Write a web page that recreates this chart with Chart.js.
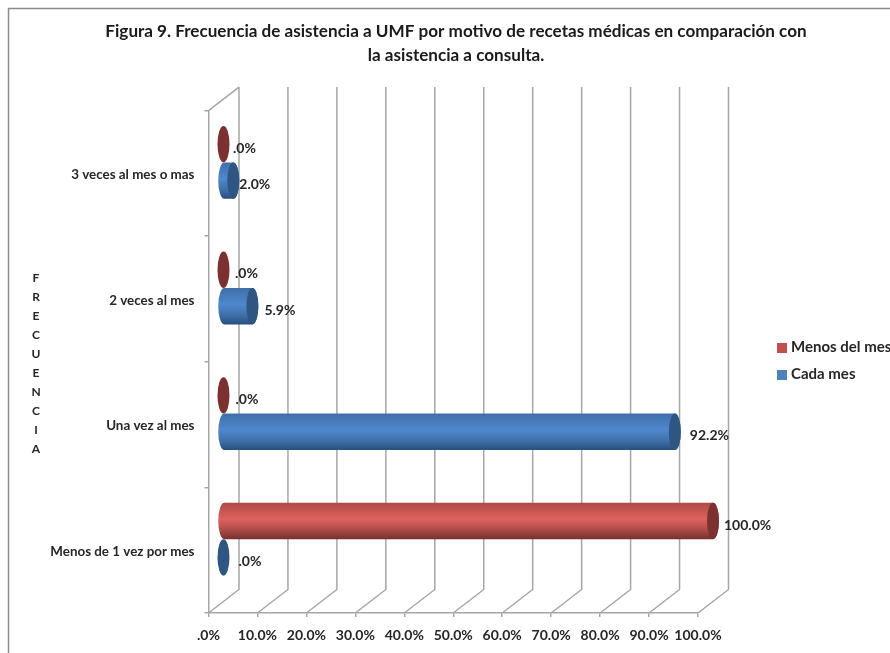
<!DOCTYPE html>
<html>
<head>
<meta charset="utf-8">
<style>
html,body{margin:0;padding:0;background:#fff;overflow:hidden}
#wrap{position:relative;width:890px;height:653px}
</style>
<script src="https://cdn.jsdelivr.net/npm/chart.js@4/dist/chart.umd.js"></script>
</head>
<body>
<div id="wrap"><canvas id="c" width="890" height="653"></canvas></div>
<script>
const categories = ["3 veces al mes o mas", "2 veces al mes", "Una vez al mes", "Menos de 1 vez por mes"];
const menosDelMes = [0, 0, 0, 100];
const cadaMes = [2, 5.9, 92.2, 0];
const seriesNames = ["Menos del mes", "Cada mes"];
const xTicks = [0, 10, 20, 30, 40, 50, 60, 70, 80, 90, 100];
const titleLines = ["Figura 9. Frecuencia de asistencia a UMF por motivo de recetas médicas en comparación con", "la asistencia a consulta."];
const axisLetters = ["F", "R", "E", "C", "U", "E", "N", "C", "I", "A"];

const FONT = "Lato, 'Open Sans', sans-serif";
const TXT = "#262626";
const GRID = "#a6a6a6";
const PAL = {
  red:  {base:"#c0504d", top:"#ad4a48", mid:"#de625f", low:"#75302e", cap:"#7d3030"},
  blue: {base:"#4f81bd", top:"#3f6fa8", mid:"#4f88cf", low:"#274f7d", cap:"#2f5583"}
};
// depth of the 3D box (back wall shift) and of the bars (mid depth)
const WALL = {x: 30.5, y: -23.5};
const BAR3D = {x: 15, y: -11};
const CAP_RX = 6;

Chart.BarElement.prototype.draw = function (ctx) {
  const {x, y, base, height} = this.getProps(["x", "y", "base", "height"]);
  const p = this.options.backgroundColor === PAL.red.base ? PAL.red : PAL.blue;
  const x0 = base + BAR3D.x, x1 = x + BAR3D.x, cy = y + BAR3D.y, ry = height / 2;
  ctx.save();
  if (x1 - x0 > 0.5) {
    const g = ctx.createLinearGradient(0, cy - ry, 0, cy + ry);
    g.addColorStop(0, p.top);
    g.addColorStop(0.45, p.mid);
    g.addColorStop(0.75, p.top);
    g.addColorStop(1, p.low);
    ctx.beginPath();
    ctx.moveTo(x1, cy - ry);
    ctx.lineTo(x0, cy - ry);
    ctx.ellipse(x0, cy, CAP_RX, ry, 0, -Math.PI / 2, -Math.PI * 1.5, true);
    ctx.lineTo(x1, cy + ry);
    ctx.ellipse(x1, cy, CAP_RX, ry, 0, Math.PI / 2, -Math.PI / 2, true);
    ctx.closePath();
    ctx.fillStyle = g;
    ctx.fill();
  }
  ctx.beginPath();
  ctx.ellipse(x1, cy, CAP_RX, ry, 0, 0, Math.PI * 2);
  ctx.fillStyle = p.cap;
  ctx.fill();
  ctx.restore();
};

const boxPlugin = {
  id: "box3d",
  beforeDraw(chart) {
    const c = chart.ctx, a = chart.chartArea, xs = chart.scales.x;
    c.save();
    c.strokeStyle = "#8c8c8c";
    c.lineWidth = 1.5;
    c.beginPath();
    c.moveTo(8.5, chart.height);
    c.lineTo(8.5, 8.5);
    c.lineTo(chart.width, 8.5);
    c.stroke();
    c.strokeStyle = GRID;
    c.lineWidth = 1.5;
    c.beginPath();
    xs.ticks.forEach(t => {
      const px = xs.getPixelForValue(t.value);
      c.moveTo(px, a.bottom);
      c.lineTo(px + WALL.x, a.bottom + WALL.y);
      c.lineTo(px + WALL.x, a.top + WALL.y);
    });
    c.moveTo(a.left, a.top);
    c.lineTo(a.left + WALL.x, a.top + WALL.y);
    c.stroke();
    c.fillStyle = TXT;
    c.font = "bold 12px " + FONT;
    c.textAlign = "center";
    c.textBaseline = "middle";
    axisLetters.forEach((l, i) => c.fillText(l, 36, 278 + i * 19));
    c.restore();
  },
  afterLayout(chart) {
    const t = chart.titleBlock;
    t.left = 22; t.right = 890;
    const l = chart.legend;
    l.left = 768.5; l.top = 328;
    l.right = l.left + l.width; l.bottom = l.top + l.height;
    l.adjustHitBoxes();
  }
};

const labelNudge = [[1.5, 3.5, 4, 3], [-2, 1, 3, 7]];
const labelPlugin = {
  id: "valueLabels",
  afterDatasetsDraw(chart) {
    const c = chart.ctx;
    c.save();
    c.fillStyle = TXT;
    c.font = "bold 14px " + FONT;
    c.textAlign = "left";
    c.textBaseline = "middle";
    chart.data.datasets.forEach((ds, i) => {
      chart.getDatasetMeta(i).data.forEach((el, j) => {
        const v = ds.data[j];
        const txt = v === 0 ? ".0%" : v.toFixed(1) + "%";
        const gap = i === 1 && v > 50 ? 6 : i === 1 && v > 3 ? 5 : 2;
        c.fillText(txt, el.x + BAR3D.x + CAP_RX + gap + labelNudge[i][j], el.y + BAR3D.y + 4);
      });
    });
    c.restore();
  }
};

function swatch(color) {
  const s = document.createElement("canvas");
  s.width = 10; s.height = 10;
  const g = s.getContext("2d");
  g.fillStyle = color;
  g.fillRect(0, 0, 10, 10);
  return s;
}

new Chart(document.getElementById("c"), {
  type: "bar",
  data: {
    labels: categories,
    datasets: [
      {label: seriesNames[0], data: menosDelMes, backgroundColor: PAL.red.base, clip: false},
      {label: seriesNames[1], data: cadaMes, backgroundColor: PAL.blue.base, clip: false}
    ]
  },
  plugins: [boxPlugin, labelPlugin],
  options: {
    indexAxis: "y",
    responsive: false,
    animation: false,
    layout: {padding: {left: 0, right: 192, top: 0, bottom: 0}},
    datasets: {bar: {categoryPercentage: 0.58, barPercentage: 1}},
    scales: {
      x: {
        min: 0, max: 100,
        afterBuildTicks(s) { s.ticks = xTicks.map(value => ({value})); },
        afterFit(s) { s.height = 40; },
        border: {display: true, color: GRID, width: 1.5},
        grid: {drawOnChartArea: false, drawTicks: true, tickLength: 4, color: GRID, lineWidth: 1.5},
        ticks: {
          autoSkip: false, maxRotation: 0, padding: 10, color: TXT,
          font: {family: FONT, size: 14, weight: "bold"},
          callback: v => (v === 0 ? ".0" : Number(v).toFixed(1)) + "%"
        }
      },
      y: {
        afterFit(s) { s.width = 208.5; },
        border: {display: true, color: GRID, width: 1.5},
        grid: {drawOnChartArea: false, drawTicks: true, tickLength: 4, color: GRID, lineWidth: 1.5},
        ticks: {padding: 10, labelOffset: 1.5, color: TXT, font: {family: FONT, size: 13.4, weight: "bold"}}
      }
    },
    plugins: {
      title: {
        display: true, text: titleLines, color: "#1a1a1a",
        font: {family: FONT, size: 17.1, weight: "bold", lineHeight: 1.41},
        padding: {top: 19, bottom: 43.4}
      },
      legend: {
        position: "chartArea",
        align: "start",
        labels: {
          usePointStyle: true, pointStyleWidth: 3, boxHeight: 10, padding: 12, color: TXT,
          font: {family: FONT, size: 15, weight: "bold"},
          generateLabels(chart) {
            return Chart.defaults.plugins.legend.labels.generateLabels(chart).map((it, i) => {
              it.pointStyle = swatch(chart.data.datasets[i].backgroundColor);
              return it;
            });
          }
        }
      },
      tooltip: {enabled: false}
    }
  }
});
</script>
</body>
</html>
